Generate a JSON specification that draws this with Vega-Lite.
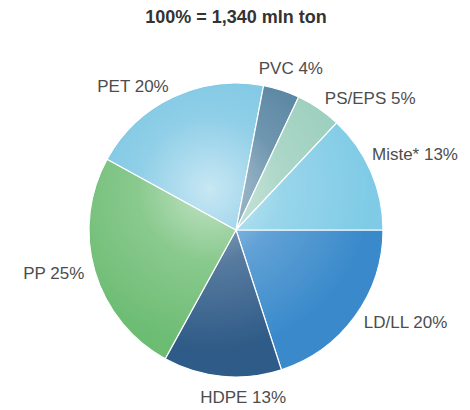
{
  "$schema": "https://vega.github.io/schema/vega-lite/v6.json",
  "autosize": "none",
  "width": 472,
  "height": 360,
  "padding": {"top": 50, "left": 0, "right": 0, "bottom": 0},
  "background": "white",
  "config": {"view": {"stroke": null}},
  "title": {"text": "100% = 1,340 mln ton", "font": "Liberation Sans", "fontSize": 18, "fontWeight": "bold", "color": "#333333", "anchor": "middle", "offset": 23},
  "data": {"values": [
    {"rank": 1, "name": "LD/LL", "value": 20, "label": "LD/LL 20%"},
    {"rank": 2, "name": "HDPE", "value": 13, "label": "HDPE 13%"},
    {"rank": 3, "name": "PP", "value": 25, "label": "PP 25%"},
    {"rank": 4, "name": "PET", "value": 20, "label": "PET 20%"},
    {"rank": 5, "name": "PVC", "value": 4, "label": "PVC 4%"},
    {"rank": 6, "name": "PS/EPS", "value": 5, "label": "PS/EPS 5%"},
    {"rank": 7, "name": "Miste*", "value": 13, "label": "Miste* 13%"}
  ]},
  "layer": [
    {
      "mark": {"type": "arc", "radius": 147, "stroke": "white", "strokeWidth": 1.2},
      "encoding": {
        "theta": {"field": "value", "type": "quantitative", "stack": true, "scale": {"range": [1.5708, 7.854]}},
        "order": {"field": "rank", "type": "quantitative"},
        "color": {"field": "name", "type": "nominal", "legend": null,
          "scale": {"domain": ["LD/LL", "HDPE", "PP", "PET", "PVC", "PS/EPS", "Miste*"],
                    "range": ["#3a8acb", "#2f5b88", "#6cbc72", "#74c3e2", "#4d7d9c", "#98cdbb", "#7fcbe6"]}}
      }
    },
    {
      "data": {"values": [{"k": 1}]},
      "mark": {"type": "arc", "radius": 146, "theta": 0, "theta2": 6.2832,
        "fill": {"gradient": "radial", "x1": 0.41, "y1": 0.36, "r1": 0, "x2": 0.41, "y2": 0.36, "r2": 0.55,
          "stops": [{"offset": 0, "color": "rgba(255,255,255,0.6)"}, {"offset": 0.45, "color": "rgba(255,255,255,0.2)"}, {"offset": 1, "color": "rgba(255,255,255,0)"}]}},
      "encoding": {}
    },
    {
      "mark": {"type": "text", "radius": 158, "align": "left", "baseline": "middle", "font": "Liberation Sans", "fontSize": 17, "color": "#4d4d4d"},
      "encoding": {
        "theta": {"field": "value", "type": "quantitative", "stack": true},
        "order": {"field": "rank", "type": "quantitative"},
        "text": {"condition": {"test": "datum.name === 'PS/EPS' || datum.name === 'LD/LL'", "field": "label"}, "value": ""}}
    },
    {
      "mark": {"type": "text", "radius": 158, "align": "left", "baseline": "middle", "dx": -9, "dy": -12, "font": "Liberation Sans", "fontSize": 17, "color": "#4d4d4d"},
      "encoding": {
        "theta": {"field": "value", "type": "quantitative", "stack": true},
        "order": {"field": "rank", "type": "quantitative"},
        "text": {"condition": {"test": "datum.name === 'Miste*'", "field": "label"}, "value": ""}}
    },
    {
      "mark": {"type": "text", "radius": 158, "align": "right", "baseline": "middle", "font": "Liberation Sans", "fontSize": 17, "color": "#4d4d4d"},
      "encoding": {
        "theta": {"field": "value", "type": "quantitative", "stack": true},
        "order": {"field": "rank", "type": "quantitative"},
        "text": {"condition": {"test": "datum.name === 'PP' || datum.name === 'PET'", "field": "label"}, "value": ""}}
    },
    {
      "mark": {"type": "text", "radius": 158, "align": "center", "baseline": "bottom", "dx": 6, "dy": -2, "font": "Liberation Sans", "fontSize": 17, "color": "#4d4d4d"},
      "encoding": {
        "theta": {"field": "value", "type": "quantitative", "stack": true},
        "order": {"field": "rank", "type": "quantitative"},
        "text": {"condition": {"test": "datum.name === 'PVC'", "field": "label"}, "value": ""}}
    },
    {
      "mark": {"type": "text", "radius": 158, "align": "center", "baseline": "top", "dx": 22, "dy": 3, "font": "Liberation Sans", "fontSize": 17, "color": "#4d4d4d"},
      "encoding": {
        "theta": {"field": "value", "type": "quantitative", "stack": true},
        "order": {"field": "rank", "type": "quantitative"},
        "text": {"condition": {"test": "datum.name === 'HDPE'", "field": "label"}, "value": ""}}
    }
  ]
}
